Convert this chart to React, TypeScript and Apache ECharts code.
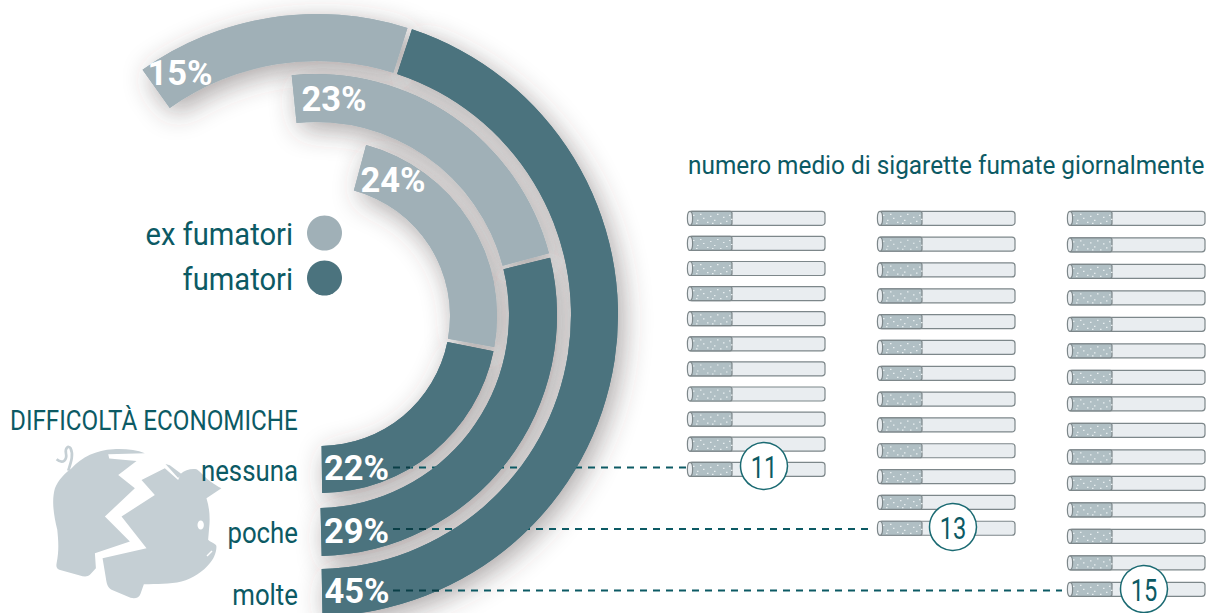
import React, { useEffect, useRef } from "react";
import * as echarts from "echarts";

const categories = ["nessuna", "poche", "molte"];
const legendNames = ["ex fumatori", "fumatori"];
const fumatori = [22, 29, 45];
const exFumatori = [24, 23, 15];
const sigarette = [11, 13, 15];
const TEAL = "#0c5a64";
const DARK = "#4b737e";
const LIGHT = "#a0b0b7";
const PIG = "#c5cfd4";
const FONT = "Roboto, sans-serif";

echarts.graphic.registerShape("pigLeft", echarts.graphic.extendPath(
  "M215 205C245 172 290 150 340 148C375 146 410 150 435 160L325 163L328 176L410 183L355 225L405 265L315 350L390 425L285 460L288 505L270 525C262 532 250 530 240 527L178 510C170 506 168 500 170 490C178 450 175 420 172 390C160 340 155 300 165 265C175 240 195 220 215 205Z",
  {}));
echarts.graphic.registerShape("pigRight", echarts.graphic.extendPath(
  "M425 240L495 205L535 240L542 222C555 210 575 205 590 208C605 215 615 240 665 265L620 295C628 320 632 350 628 385L625 420C635 430 650 432 650 440C650 460 640 480 630 490C610 515 580 535 545 545C510 553 470 553 432 553L422 582C418 595 405 597 392 594L335 570C322 562 320 548 318 535L308 475L440 445L365 350L465 285ZM497 192L510 196L545 222L535 234Z",
  {}));
echarts.graphic.registerShape("pigTail", echarts.graphic.extendPath(
  "M205 212C212 190 222 165 212 145C205 135 195 145 198 160C202 178 190 195 170 178",
  {}));

const speckles = [[3,3],[7,8],[10,2],[13,6],[17,10],[20,4],[24,8],[27,2],[30,11],[33,5],[36,9],[39,3],[41,7],[6,11],[22,11]];

function cigarette(_: any, api: any) {
  const i = api.value(1);
  const [x0, y] = api.coord([0, i]);
  const [x1] = api.coord([1, i]);
  const h = 14;
  const top = y - h / 2;
  const stroke = "#7d878a";
  const children: any[] = [
    { type: "rect", shape: { x: x0 + 2, y: top, width: x1 - x0 - 2, height: h, r: 3 }, style: { fill: "#e9edf0", stroke, lineWidth: 1.2 } },
    { type: "rect", shape: { x: x0 + 2, y: top, width: 43, height: h, r: 2 }, style: { fill: "#b0bfc4", stroke, lineWidth: 1.2 } },
    { type: "ellipse", shape: { cx: x0 + 3, cy: y, rx: 2.6, ry: h / 2 }, style: { fill: "#e9edf0", stroke, lineWidth: 1.2 } },
  ];
  speckles.forEach(([dx, dy]) => {
    children.push({ type: "rect", shape: { x: x0 + dx + 3, y: top + dy + 0.5, width: 1.5, height: 1.2 }, style: { fill: "#e8eef0" } });
  });
  return { type: "group", children };
}

function ring(r: any, i: number, shadow: boolean) {
  const blank = 100 - fumatori[i] - exFumatori[i];
  const s = shadow
    ? { shadowBlur: 28, shadowColor: "rgba(70,55,55,0.46)", shadowOffsetX: 5, shadowOffsetY: 7 }
    : {};
  return {
    type: "pie",
    z: shadow ? 1 : 3,
    silent: true,
    center: r.center,
    radius: r.radius,
    startAngle: r.start,
    endAngle: r.end,
    clockwise: false,
    padAngle: r.pad,
    label: { show: false },
    labelLine: { show: false },
    emphasis: { disabled: true },
    data: [
      { name: "fumatori", value: fumatori[i], itemStyle: { color: DARK, ...s } },
      { name: "ex fumatori", value: exFumatori[i], itemStyle: { color: LIGHT, ...s } },
      { name: "", value: blank, itemStyle: { color: "rgba(0,0,0,0)" } },
    ],
  };
}

const rings = [
  { center: [320, 316], radius: [130, 177], start: 270, end: 630, pad: 1.4 },
  { center: [316, 315], radius: [193, 241], start: 270.8, end: 627.6, pad: 1.1 },
  { center: [317, 315], radius: [254, 301], start: 270.6, end: 629.4, pad: 0.9 },
];

const colX = [687, 877, 1067];
const colStep = [25.1, 25.83, 26.5];
const FIRST_ROW = 218.3;
const circleC = [[764, 466], [953, 527], [1144, 589]];
const lineY = [467.5, 529, 590.5];
const lineEnd = [688, 872, 1062];
const lineFrontEnd = [410, 429, 445];
const catY = [471, 533, 595];
const pctPos = [[356.5, 468], [356.5, 531], [357, 591]];
const exPos = [[393, 180], [334, 99], [180, 73]];
const legendY = [233, 278];
const legendColor = [LIGHT, DARK];

function text(t: string, x: number, y: number, size: number, align: string, sx = 1, fill = TEAL, weight: any = "normal") {
  return { type: "text", z: 8, x, y, scaleX: sx, style: { text: t, fontSize: size, fontFamily: FONT, fontWeight: weight, fill, align, verticalAlign: "middle" } };
}

export default function App() {
  const ref = useRef<HTMLDivElement>(null);
  useEffect(() => {
    const chart = echarts.init(ref.current!, undefined, { renderer: "svg" });
    const series: any[] = [];
    rings.forEach((r, i) => series.push(ring(r, i, true)));
    rings.forEach((r, i) => series.push(ring(r, i, false)));
    sigarette.forEach((n, k) => {
      series.push({
        type: "custom",
        z: 5,
        silent: true,
        xAxisIndex: k,
        yAxisIndex: k,
        encode: { x: 0, y: 1 },
        clip: false,
        renderItem: cigarette,
        data: Array.from({ length: n }, (_, i) => [0, i + 1]),
      });
    });
    const graphics: any[] = [];
    graphics.push({ type: "pigTail", z: 4, x: 0, y: 400, scaleX: 1 / 3, scaleY: 1 / 3, style: { fill: "none", stroke: PIG, lineWidth: 8 } });
    graphics.push({ type: "pigLeft", z: 4, x: 0, y: 400, scaleX: 1 / 3, scaleY: 1 / 3, style: { fill: PIG } });
    graphics.push({ type: "pigRight", z: 4, x: 0, y: 400, scaleX: 1 / 3, scaleY: 1 / 3, style: { fill: PIG } });
    graphics.push({ type: "ellipse", z: 4, shape: { cx: 200.7, cy: 525, rx: 3.2, ry: 4.6 }, style: { fill: "#fff" } });
    graphics.push({ type: "line", z: 4, shape: { x1: 207, y1: 556, x2: 212, y2: 551 }, style: { stroke: "#fff", lineWidth: 1.5 } });
    lineY.forEach((y, i) => {
      graphics.push({ type: "line", z: 2, shape: { x1: 393, y1: y, x2: lineEnd[i], y2: y }, style: { stroke: TEAL, lineWidth: 2.2, lineDash: [7, 6] } });
      graphics.push({ type: "line", z: 4, shape: { x1: 393, y1: y, x2: lineFrontEnd[i], y2: y }, style: { stroke: "#0a3f47", lineWidth: 2.2, lineDash: [7, 6] } });
      graphics.push(text(categories[i], 298, catY[i], 29, "right", 0.89));
      graphics.push(text(`${fumatori[i]}%`, pctPos[i][0], pctPos[i][1], 34.5, "center", 1, "#fff", "bold"));
      graphics.push(text(`${exFumatori[i]}%`, exPos[i][0], exPos[i][1], 34.5, "center", 1, "#fff", "bold"));
    });
    legendNames.forEach((name, i) => {
      graphics.push({ type: "circle", z: 4, shape: { cx: 324.5, cy: legendY[i], r: 17.5 }, style: { fill: legendColor[i] } });
      graphics.push(text(name, 293, legendY[i] + 1, 31, "right", 0.94));
    });
    graphics.push(text("DIFFICOLTÀ ECONOMICHE", 10, 421, 27, "left", 0.897));
    graphics.push(text("numero medio di sigarette fumate giornalmente", 688, 165, 25, "left", 0.975));
    sigarette.forEach((n, i) => {
      graphics.push({ type: "circle", z: 7, shape: { cx: circleC[i][0], cy: circleC[i][1], r: 23.5 }, style: { fill: "#fff", stroke: "#1a6a72", lineWidth: 1.5 } });
      graphics.push(text(String(n), circleC[i][0], circleC[i][1] + 1, 32, "center", 0.74));
    });
    chart.setOption({
      animation: false,
      backgroundColor: "#fff",
      grid: sigarette.map((n, k) => ({
        left: colX[k],
        width: 138,
        top: FIRST_ROW - colStep[k] / 2,
        height: n * colStep[k],
      })),
      xAxis: sigarette.map((_, k) => ({ type: "value", gridIndex: k, show: false, min: 0, max: 1 })),
      yAxis: sigarette.map((n, k) => ({ type: "value", gridIndex: k, show: false, min: 0.5, max: n + 0.5, inverse: true })),
      series,
      graphic: { elements: graphics },
    });
    return () => chart.dispose();
  }, []);
  return <div ref={ref} style={{ position: "absolute", left: 0, top: 0, width: 1207, height: 613 }} />;
}
